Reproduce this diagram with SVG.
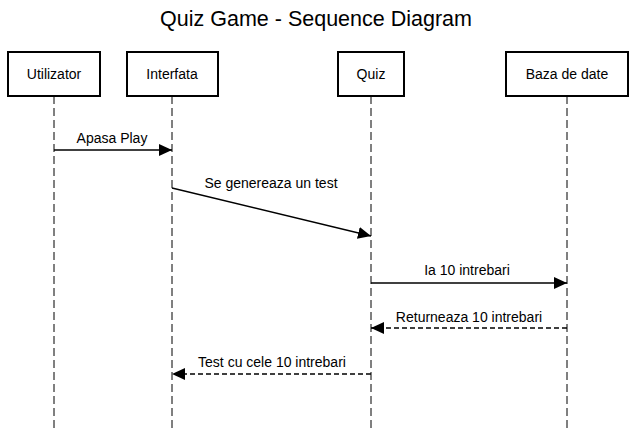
<svg xmlns="http://www.w3.org/2000/svg" width="636" height="431" viewBox="0 0 636 431">
<style>
.box{fill:#fff;stroke:#000;stroke-width:2}
.life{stroke:#000;stroke-width:1;stroke-dasharray:8 4;fill:none}
.msg{stroke:#000;stroke-width:1.3;fill:none}
.ret{stroke:#000;stroke-width:1.3;fill:none;stroke-dasharray:5 3}
text{font-family:"Liberation Sans",Arial,sans-serif;fill:#000}
.lbl{font-size:14px;text-anchor:middle}
.ttl{font-size:21.5px;text-anchor:middle}
</style>
<defs>
<marker id="ah" markerUnits="userSpaceOnUse" markerWidth="14" markerHeight="14" viewBox="0 0 14 14" refX="13" refY="7" orient="auto">
<path d="M0,1 L13,7 L0,13 Z" fill="#000"/>
</marker>
</defs>
<rect width="636" height="431" fill="#fff"/>
<text class="ttl" x="316" y="26">Quiz Game - Sequence Diagram</text>
<g id="utilizator">
<line class="life" x1="54" y1="96" x2="54" y2="431"/>
<rect class="box" x="8" y="52" width="92" height="44"/>
<text class="lbl" x="54" y="79">Utilizator</text>
</g>
<g id="interfata">
<line class="life" x1="172" y1="96" x2="172" y2="431"/>
<rect class="box" x="127" y="52" width="91" height="44"/>
<text class="lbl" x="172" y="79">Interfata</text>
</g>
<g id="quiz">
<line class="life" x1="371" y1="96" x2="371" y2="431"/>
<rect class="box" x="338" y="52" width="66" height="44"/>
<text class="lbl" x="371" y="79">Quiz</text>
</g>
<g id="baza">
<line class="life" x1="567" y1="96" x2="567" y2="431"/>
<rect class="box" x="506" y="52" width="122" height="44"/>
<text class="lbl" x="567" y="79">Baza de date</text>
</g>
<g id="connectors">
<line class="msg" x1="54" y1="150" x2="172" y2="150" marker-end="url(#ah)"/>
<text class="lbl" x="112" y="143">Apasa Play</text>
<line class="msg" x1="172" y1="188" x2="371" y2="236" marker-end="url(#ah)"/>
<text class="lbl" x="271" y="188">Se genereaza un test</text>
<line class="msg" x1="371" y1="283" x2="567" y2="283" marker-end="url(#ah)"/>
<text class="lbl" x="467" y="275">Ia 10 intrebari</text>
<line class="ret" x1="567" y1="328" x2="371" y2="328" marker-end="url(#ah)"/>
<text class="lbl" x="469" y="322">Returneaza 10 intrebari</text>
<line class="ret" x1="371" y1="374" x2="172" y2="374" marker-end="url(#ah)"/>
<text class="lbl" x="272" y="367">Test cu cele 10 intrebari</text>
</g>
</svg>
